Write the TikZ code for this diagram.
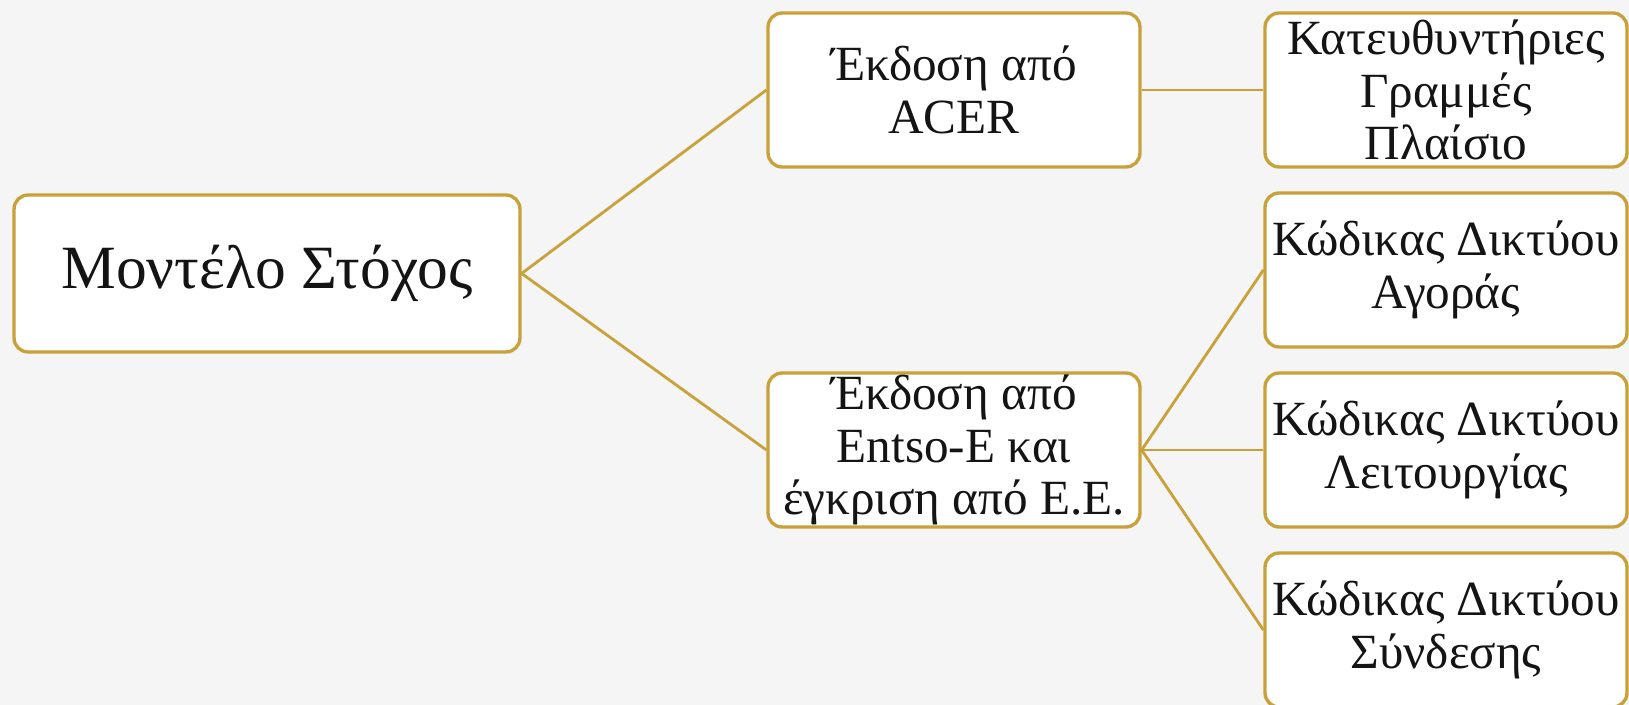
\documentclass[tikz,border=0pt]{standalone}
\usepackage{fontspec}
\setmainfont{Liberation Serif}
\definecolor{gold}{RGB}{201,161,58}
\definecolor{ink}{RGB}{20,20,20}
\definecolor{paper}{RGB}{245,245,245}

\begin{document}
\begin{tikzpicture}[x=0.02cm,y=-0.02cm,
	box/.style={draw=gold, line width=1.9pt, fill=white, rounded corners=8pt, text=ink, align=center, inner sep=0pt},
	midbox/.style={box, minimum width=7.44cm, minimum height=3.08cm, font=\fontsize{28}{30}\selectfont},
	sidebox/.style={box, minimum width=7.24cm, minimum height=3.08cm, font=\fontsize{28}{30}\selectfont},
	link/.style={draw=gold, line width=1.6pt}]
	\fill[paper] (0,0) rectangle (1629,705);
	\useasboundingbox (0,0) rectangle (1629,705);
	\node[box, minimum width=10.12cm, minimum height=3.14cm, font=\fontsize{35}{40}\selectfont] (model) at (267,273.5) {Μοντέλο Στόχος};
	\node[midbox] (acer) at (954,90) {Έκδοση από\\ACER};
	\node[midbox] (entso) at (954,450) {Έκδοση από\\Entso-E και\\έγκριση από Ε.Ε.};
	\node[sidebox] (guide) at (1446,90) {Κατευθυντήριες\\Γραμμές\\Πλαίσιο};
	\node[sidebox] (market) at (1446,270) {Κώδικας Δικτύου\\Αγοράς};
	\node[sidebox] (operation) at (1446,450) {Κώδικας Δικτύου\\Λειτουργίας};
	\node[sidebox] (connection) at (1446,630) {Κώδικας Δικτύου\\Σύνδεσης};
	\draw[link] (model.east) -- (acer.west);
	\draw[link] (model.east) -- (entso.west);
	\draw[link] (acer.east) -- (guide.west);
	\foreach \t in {market,operation,connection} \draw[link] (entso.east) -- (\t.west);
\end{tikzpicture}
\end{document}
